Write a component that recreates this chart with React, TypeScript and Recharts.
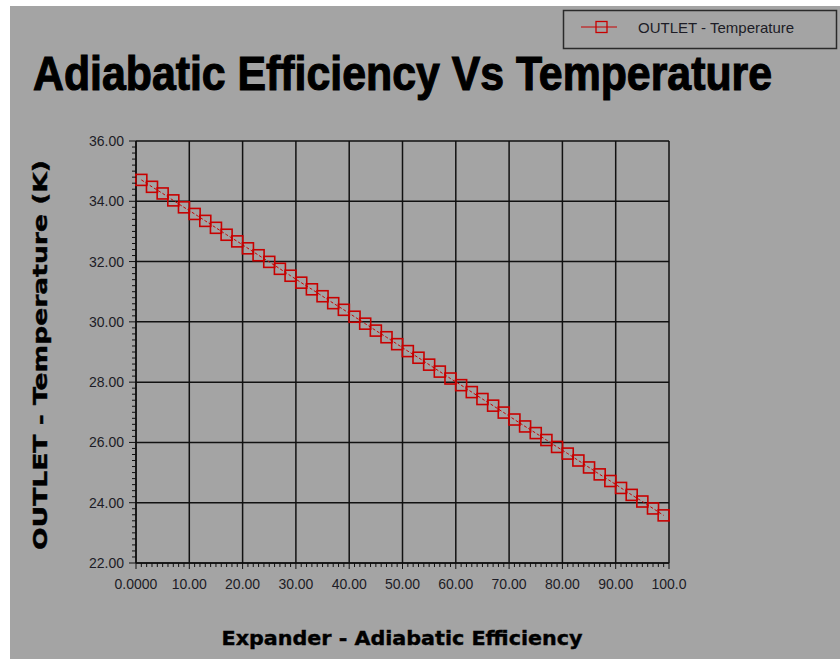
import { LineChart, Line, XAxis, YAxis, CartesianGrid } from 'recharts';

// adiabatic efficiency (%) of the expander
const efficiency = [
  1, 3, 5, 7, 9, 11, 13, 15, 17, 19, 21, 23, 25, 27, 29, 31, 33, 35, 37, 39, 41, 43, 45, 47, 49,
  51, 53, 55, 57, 59, 61, 63, 65, 67, 69, 71, 73, 75, 77, 79, 81, 83, 85, 87, 89, 91, 93, 95, 97, 99,
];
// outlet temperature (K)
const outletTemp = [
  34.71, 34.48, 34.26, 34.03, 33.8, 33.58, 33.35, 33.12, 32.89, 32.67, 32.44, 32.21, 31.99, 31.76,
  31.53, 31.3, 31.08, 30.85, 30.62, 30.4, 30.17, 29.94, 29.71, 29.49, 29.26, 29.03, 28.81, 28.58,
  28.35, 28.12, 27.9, 27.67, 27.44, 27.22, 26.99, 26.76, 26.53, 26.31, 26.08, 25.85, 25.63, 25.4,
  25.17, 24.94, 24.72, 24.49, 24.26, 24.04, 23.81, 23.58,
];

const xMajor = [0, 10, 20, 30, 40, 50, 60, 70, 80, 90, 100];
const xTickLabels = ['0.0000', '10.00', '20.00', '30.00', '40.00', '50.00', '60.00', '70.00', '80.00', '90.00', '100.0'];
const yMajor = [22, 24, 26, 28, 30, 32, 34, 36];
const yTickLabels = ['22.00', '24.00', '26.00', '28.00', '30.00', '32.00', '34.00', '36.00'];

// minor ticks: every 1 on x, every 0.2 on y
const xMinor = Array.from({ length: 101 }, (_, i) => i);
const yMinor = Array.from({ length: 71 }, (_, i) => Math.round((22 + i * 0.2) * 10) / 10);

const data = efficiency.map((x, i) => ({ x, y: outletTemp[i] }));

const RED = '#c80000';
const INK = '#1c1c26';
const FONT = '"Liberation Sans", Arial, sans-serif';
const HEAVY = '"DejaVu Sans", Verdana, sans-serif';

const XTick = (props: any) => {
  const { x, y, payload } = props;
  const idx = xMajor.findIndex((v) => Math.abs(v - payload.value) < 1e-6);
  const major = idx >= 0;
  return (
    <g>
      <line x1={x} x2={x} y1={y} y2={y + (major ? 6 : 4)} stroke="#111" strokeWidth={1} />
      {major && (
        <text x={x} y={y + 26} textAnchor="middle" fontSize={14} fill={INK} fontFamily={FONT}>
          {xTickLabels[idx]}
        </text>
      )}
    </g>
  );
};

const YTick = (props: any) => {
  const { x, y, payload } = props;
  const idx = yMajor.findIndex((v) => Math.abs(v - payload.value) < 1e-6);
  const major = idx >= 0;
  return (
    <g>
      <line x1={x - (major ? 7 : 4)} x2={x} y1={y} y2={y} stroke="#111" strokeWidth={1} />
      {major && (
        <text x={x - 12} y={y + 5} textAnchor="end" fontSize={14} fill={INK} fontFamily={FONT}>
          {yTickLabels[idx]}
        </text>
      )}
    </g>
  );
};

const SquareDot = (props: any) => {
  const { cx, cy, index } = props;
  return (
    <rect key={index} x={cx - 5.5} y={cy - 5.5} width={11} height={11} fill="none" stroke={RED} strokeWidth={1.6} />
  );
};

export default function App() {
  return (
    <div style={{ position: 'relative', width: 840, height: 659, background: '#fff' }}>
      <style>{'body{margin:0}'}</style>
      <div style={{ position: 'absolute', left: 10, top: 6, right: 0, bottom: 0, background: '#a4a4a4' }} />
      <div style={{ position: 'absolute', left: 0, top: 0 }}>
        <LineChart width={840} height={659} data={data} margin={{ top: 141, right: 171, bottom: 0, left: 0 }}>
          <CartesianGrid
            horizontalValues={yMajor}
            verticalValues={xMajor}
            stroke="#111"
            strokeWidth={1.5}
          />
          <XAxis
            dataKey="x"
            type="number"
            domain={[0, 100]}
            ticks={xMinor}
            interval={0}
            height={96}
            tickSize={0}
            tickMargin={0}
            tickLine={false}
            tick={XTick}
            axisLine={{ stroke: '#111', strokeWidth: 1.5 }}
          />
          <YAxis
            type="number"
            domain={[22, 36]}
            ticks={yMinor}
            interval={0}
            width={136}
            tickSize={0}
            tickMargin={0}
            tickLine={false}
            tick={YTick}
            axisLine={{ stroke: '#111', strokeWidth: 1.5 }}
          />
          <Line
            type="linear"
            dataKey="y"
            stroke={RED}
            strokeWidth={1}
            strokeDasharray="3 2"
            dot={SquareDot}
            isAnimationActive={false}
          />
        </LineChart>
      </div>
      <svg
        width={840}
        height={659}
        style={{ position: 'absolute', left: 0, top: 0, pointerEvents: 'none' }}
        fontFamily={FONT}
      >
        <g transform="translate(33 90) scale(1 1.15)">
          <text x={0} y={0} fontSize={42.5} fontWeight="bold" fill="#000" stroke="#000" strokeWidth={1}
            textLength={739} lengthAdjust="spacingAndGlyphs">
            Adiabatic Efficiency Vs Temperature
          </text>
        </g>
        <text x={47} y={355} transform="rotate(-90 47 355)" textAnchor="middle" fontSize={19} fontWeight="bold"
          fontFamily={HEAVY} fill="#000" stroke="#000" strokeWidth={0.4} textLength={390} lengthAdjust="spacingAndGlyphs">
          OUTLET - Temperature (K)
        </text>
        <text x={402} y={645} textAnchor="middle" fontSize={20} fontWeight="bold" fontFamily={HEAVY} fill="#000"
          stroke="#000" strokeWidth={0.4} textLength={361} lengthAdjust="spacingAndGlyphs">
          Expander - Adiabatic Efficiency
        </text>
        <rect x={563.5} y={10.5} width={273} height={38} fill="none" stroke="#2a2a2a" strokeWidth={1.5} />
        <line x1={581} x2={617} y1={27} y2={27} stroke={RED} strokeWidth={1.2} />
        <rect x={596} y={21.5} width={11} height={11} fill="none" stroke={RED} strokeWidth={1.3} />
        <text x={638} y={33} fontSize={15} fill={INK}>OUTLET - Temperature</text>
      </svg>
    </div>
  );
}
